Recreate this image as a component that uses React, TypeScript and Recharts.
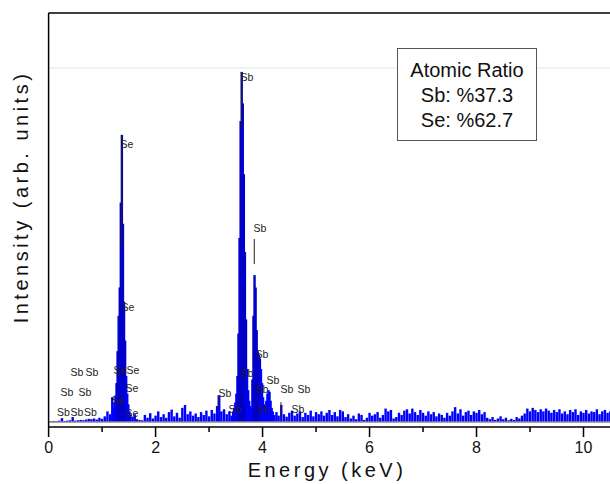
import React from 'react';
import { ComposedChart, Bar, XAxis, YAxis, ReferenceLine, Scatter } from 'recharts';

// Spectrum channels: [energy keV, counts (arb.)]
const bgLow: [number, number][] = [
  [0.0, 0], [0.05, 2], [0.1, 3], [0.15, 2], [0.2, 4], [0.25, 11], [0.3, 3], [0.35, 4], [0.4, 5], [0.45, 14],
  [0.5, 4], [0.55, 5], [0.6, 6], [0.65, 5], [0.7, 7], [0.75, 9], [0.8, 8], [0.85, 10], [0.9, 7], [0.95, 12],
  [1.0, 9], [1.05, 16], [1.1, 30], [1.15, 22], [1.19, 70],
];
const sePeak: [number, number][] = [
  [1.21, 40], [1.23, 55], [1.25, 75], [1.27, 110], [1.29, 200], [1.31, 300], [1.33, 380], [1.35, 620],
  [1.37, 811], [1.39, 560], [1.41, 340], [1.43, 230], [1.45, 130], [1.47, 80], [1.49, 50], [1.51, 30], [1.53, 20],
];
const bgMid: [number, number][] = [
  [1.57, 15], [1.61, 22], [1.65, 8], [1.7, 6], [1.75, 5], [1.8, 20], [1.85, 12], [1.9, 25], [1.95, 10], [2.0, 18],
  [2.05, 30], [2.1, 14], [2.15, 22], [2.2, 12], [2.25, 28], [2.3, 35], [2.35, 16], [2.4, 26], [2.45, 12], [2.5, 40],
  [2.55, 48], [2.6, 22], [2.65, 30], [2.7, 18], [2.75, 24], [2.8, 14], [2.85, 28], [2.9, 20], [2.95, 32], [3.0, 16],
  [3.05, 34], [3.1, 24], [3.15, 45], [3.19, 75], [3.23, 30], [3.28, 36], [3.33, 22], [3.38, 30], [3.42, 18],
];
const sbPeaks: [number, number][] = [
  [3.45, 30], [3.47, 40], [3.49, 55], [3.51, 80], [3.53, 130], [3.55, 250], [3.57, 520], [3.59, 850], [3.61, 989],
  [3.63, 900], [3.65, 700], [3.67, 480], [3.69, 290], [3.71, 150], [3.73, 90], [3.75, 60], [3.77, 45], [3.79, 40],
  [3.81, 120], [3.83, 300], [3.85, 415], [3.87, 380], [3.89, 260], [3.91, 200], [3.93, 190], [3.95, 180],
  [3.97, 150], [3.99, 110], [4.01, 70], [4.03, 50], [4.05, 45], [4.07, 60], [4.09, 80], [4.11, 90], [4.13, 85],
  [4.15, 60], [4.17, 40], [4.19, 30],
];
const bgHigh: [number, number][] = [
  [4.22, 20], [4.26, 28], [4.3, 18], [4.35, 48], [4.4, 22], [4.45, 15], [4.5, 26], [4.55, 32], [4.6, 18], [4.65, 24],
  [4.7, 30], [4.75, 14], [4.8, 26], [4.85, 20], [4.9, 32], [4.95, 16], [5.0, 28], [5.05, 22], [5.1, 30], [5.15, 18],
  [5.2, 26], [5.25, 34], [5.3, 20], [5.35, 28], [5.4, 16], [5.45, 34], [5.5, 30], [5.55, 14], [5.6, 22], [5.65, 10],
  [5.7, 18], [5.75, 8], [5.8, 24], [5.85, 20], [5.9, 6], [5.95, 12], [6.0, 26], [6.05, 18], [6.1, 22], [6.15, 28],
  [6.2, 12], [6.25, 20], [6.3, 38], [6.35, 30], [6.4, 34], [6.45, 10], [6.5, 14], [6.55, 26], [6.6, 20], [6.65, 32],
  [6.7, 36], [6.75, 24], [6.8, 38], [6.85, 28], [6.9, 20], [6.95, 34], [7.0, 26], [7.05, 18], [7.1, 30], [7.15, 22],
  [7.2, 28], [7.25, 16], [7.3, 24], [7.35, 20], [7.4, 12], [7.45, 26], [7.5, 18], [7.55, 30], [7.6, 42], [7.65, 24],
  [7.7, 36], [7.75, 18], [7.8, 28], [7.85, 32], [7.9, 20], [7.95, 30], [8.0, 26], [8.05, 34], [8.1, 22], [8.15, 28],
  [8.2, 12], [8.25, 8], [8.3, 14], [8.35, 6], [8.4, 10], [8.45, 16], [8.5, 8], [8.55, 12], [8.6, 5], [8.65, 9],
  [8.7, 6], [8.75, 14], [8.8, 10], [8.85, 18], [8.9, 24], [8.95, 38], [9.0, 30], [9.05, 40], [9.1, 34], [9.15, 28],
  [9.2, 36], [9.25, 30], [9.3, 38], [9.35, 32], [9.4, 26], [9.45, 34], [9.5, 28], [9.55, 36], [9.6, 24], [9.65, 30],
  [9.7, 22], [9.75, 34], [9.8, 28], [9.85, 36], [9.9, 20], [9.95, 30], [10.0, 26], [10.05, 34], [10.1, 24],
  [10.15, 30], [10.2, 28], [10.25, 36], [10.3, 22], [10.35, 30], [10.4, 34], [10.45, 26], [10.5, 30],
];

// Peak identification labels: [energy, height, text]
const peakLabels: [number, number, string][] = [
  [1.466, 785, 'Se'], [1.484, 325, 'Se'], [1.335, 147, 'Se'], [1.578, 147, 'Se'], [1.559, 96, 'Se'],
  [1.297, 62, 'Se'], [1.559, 25, 'Se'],
  [0.531, 141, 'Sb'], [0.811, 141, 'Sb'], [0.344, 85, 'Sb'], [0.68, 85, 'Sb'], [0.279, 28, 'Sb'],
  [0.531, 28, 'Sb'], [0.783, 28, 'Sb'],
  [3.709, 975, 'Sb'], [3.952, 548, 'Sb'], [3.989, 192, 'Sb'], [3.709, 138, 'Sb'], [4.195, 119, 'Sb'],
  [3.297, 82, 'Sb'], [3.989, 93, 'Sb'], [4.456, 93, 'Sb'], [4.774, 93, 'Sb'], [3.484, 37, 'Sb'],
  [4.008, 37, 'Sb'], [4.662, 37, 'Sb'],
];

// Line markers: [energy, from, to]
const markers: [number, number, number][] = [
  [1.37, 811, 492], [3.61, 989, 830], [3.845, 517, 446], [4.344, 56, 14], [3.167, 76, 34],
];

const xTicks = [0, 1, 2, 3, 4, 5, 6, 7, 8, 9, 10];
const ratioLines = ['Atomic Ratio', 'Sb: %37.3', 'Se: %62.7'];

const spectrum = [...bgLow, ...sePeak, ...bgMid, ...sbPeaks, ...bgHigh].map(([e, c]) => ({ e, c }));
const labelData = peakLabels.map(([e, v, t]) => ({ e, v, t }));

const FONT = '"Liberation Sans", Arial, sans-serif';

const EnergyTick = (props: any) => {
  const { x, y, payload } = props;
  const v = payload.value;
  const major = v % 2 === 0;
  return (
    <g>
      <line x1={x} x2={x} y1={y} y2={y + (major ? 10 : 5)} stroke="#000" strokeWidth={1.5} />
      {major && (
        <text x={x} y={y + 26} textAnchor="middle" fontSize={16} fill="#111" fontFamily={FONT}>
          {v}
        </text>
      )}
    </g>
  );
};

const BarShape = (props: any) => {
  const { x, y, width, height, payload } = props;
  if (!height || height <= 0) return null;
  const cx = x + width / 2;
  const w = 2.4;
  const fill = payload && payload.c > 150 ? '#0000c8' : '#0000ff';
  return <rect x={cx - w / 2} y={y} width={w} height={height} fill={fill} />;
};

const LabelShape = (props: any) => {
  const { cx, cy, payload } = props;
  return (
    <text x={cx} y={cy} textAnchor="middle" dominantBaseline="central" fontSize={10.5} fill="#222" fontFamily={FONT}>
      {payload.t}
    </text>
  );
};

export default function App() {
  return (
    <div style={{ position: 'absolute', left: 0, top: 0, width: 610, height: 484, overflow: 'hidden', background: '#fff' }}>
      <ComposedChart
        width={640}
        height={484}
        data={spectrum}
        margin={{ top: 13, right: 3, left: 48.6, bottom: 0 }}
      >
        <XAxis
          dataKey="e"
          type="number"
          domain={[0, 11]}
          ticks={xTicks}
          allowDataOverflow
          height={57}
          tickLine={false}
          tickSize={0}
          tickMargin={0}
          tick={<EnergyTick />}
          axisLine={{ stroke: '#000', strokeWidth: 1.5 }}
          interval={0}
        />
        <YAxis type="number" domain={[-14.1, 1155.4]} allowDataOverflow hide />
        <ReferenceLine y={1000} stroke="#e4e4e4" strokeWidth={1} />
        <ReferenceLine y={0} stroke="#8c8c8c" strokeWidth={1.5} />
        <Bar dataKey="c" shape={<BarShape />} isAnimationActive={false} />
        {markers.map(([e, a, b], i) => (
          <ReferenceLine key={i} segment={[{ x: e, y: a }, { x: e, y: b }]} stroke="#222" strokeWidth={1} />
        ))}
        <ReferenceLine y={1155.4} stroke="#000" strokeWidth={1.5} />
        <ReferenceLine x={0} stroke="#000" strokeWidth={1.5} />
        <Scatter data={labelData} dataKey="v" shape={<LabelShape />} isAnimationActive={false} />
      </ComposedChart>
      <svg width={610} height={484} style={{ position: 'absolute', left: 0, top: 0, pointerEvents: 'none' }}>
        <text x={327} y={477} textAnchor="middle" fontSize={20} fill="#111" fontFamily={FONT} style={{ letterSpacing: 3.5 }}>
          Energy (keV)
        </text>
        <text
          x={28}
          y={197}
          textAnchor="middle"
          fontSize={20}
          fill="#111"
          fontFamily={FONT}
          style={{ letterSpacing: 3.5 }}
          transform="rotate(-90 28 197)"
        >
          Intensity (arb. units)
        </text>
      </svg>
      <div
        style={{
          position: 'absolute',
          left: 397,
          top: 48,
          width: 140,
          height: 93,
          boxSizing: 'border-box',
          border: '1.5px solid #555',
          background: '#fff',
          fontFamily: FONT,
          fontSize: 20,
          lineHeight: '25px',
          textAlign: 'center',
          paddingTop: 9,
          color: '#111',
        }}
      >
        {ratioLines.map((l) => (
          <div key={l}>{l}</div>
        ))}
      </div>
    </div>
  );
}
